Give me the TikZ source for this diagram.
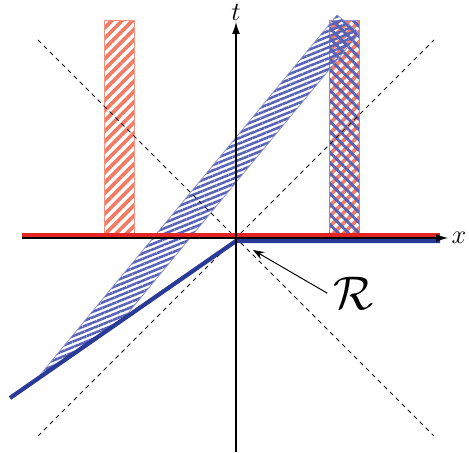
\documentclass[tikz,border=0pt]{standalone}
\usepackage{amsmath,amssymb}
\usetikzlibrary{arrows.meta,positioning,patterns.meta}
\definecolor{restcolor}{RGB}{242,122,98}
\definecolor{movecolor}{RGB}{88,98,182}
\definecolor{slicered}{RGB}{228,35,35}
\definecolor{sliceblue}{RGB}{42,58,152}
\tikzset{
  axisln/.style={-{Latex[length=3mm,width=2mm]}, line width=0.9pt, black},
  coneln/.style={dashed, line width=0.6pt},
  sliceln/.style={line width=3pt, line cap=butt, line join=miter},
  axislab/.style={font=\Large, scale=1.3},
  resttube/.style={draw=restcolor!80, line width=0.5pt,
    pattern={Lines[angle=45,distance=5.2pt,line width=2.6pt]}, pattern color=restcolor},
  movetube/.style={draw=movecolor!70, line width=0.5pt,
    pattern={Lines[angle=22,distance=3.6pt,line width=1.8pt]}, pattern color=movecolor},
}

\begin{document}
\begin{tikzpicture}
    \useasboundingbox (-5.9,-5.375) rectangle (5.825,5.95);
    \path[resttube] (-3.29,0.05) rectangle (-2.54,5.43);
    \path[resttube] (2.33,0.05) rectangle (3.08,5.43);
    \path[pattern={Lines[angle=-45,distance=5.2pt,line width=2pt]}, pattern color=movecolor]
      (2.33,0.05) rectangle (3.08,5.43);
    \draw[movecolor!70, line width=0.5pt] (2.33,0.05) rectangle (3.08,5.43);
    \path[movetube] (-5.025,-3.575) -- (2.525,5.575) -- (3.0875,5.125) -- (-2.8125,-2.0125) -- cycle;
    \draw[coneln] (-4.95,4.95) -- (4.95,-4.95);
    \draw[coneln] (-4.95,-4.95) -- (4.95,4.95);
    \draw[sliceln, slicered] (-5.35,0.075) -- (5.1,0.075);
    \draw[sliceln, sliceblue] (-5.65,-4.0) -- (0,-0.075) -- (5.1,-0.075);
    \draw[axisln] (-5.35,0) -- (5.3,0) node[right, axislab, inner sep=1.5pt] (xlab) {$x$};
    \draw[axisln] (0,-5.35) -- (0,5.4) node[above, axislab, inner sep=0.5pt] (tlab) {$t$};
    \node[font=\Huge, scale=1.35] (rlab) at (2.95,-1.38) {$\mathcal{R}$};
    \coordinate (rtip) at (0.425,-0.3);
    \draw[-{Stealth[length=2.8mm,width=2mm]}, line width=0.7pt] (rlab.west) -- (rtip);
  \end{tikzpicture}
\end{document}
